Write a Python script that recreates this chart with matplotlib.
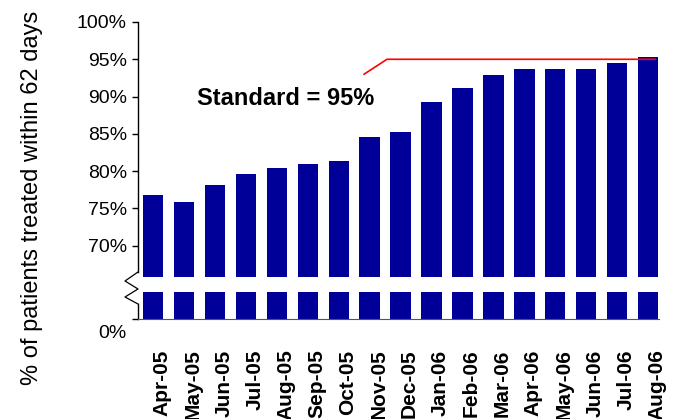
import matplotlib
matplotlib.use("Agg")
import matplotlib.pyplot as plt
from matplotlib.lines import Line2D
from matplotlib.transforms import ScaledTranslation

plt.rcParams["font.family"] = ["Liberation Sans", "DejaVu Sans"]

months = ["Apr-05", "May-05", "Jun-05", "Jul-05", "Aug-05", "Sep-05", "Oct-05",
          "Nov-05", "Dec-05", "Jan-06", "Feb-06", "Mar-06", "Apr-06", "May-06",
          "Jun-06", "Jul-06", "Aug-06"]
pct_within_62 = [76.8, 75.8, 78.2, 79.6, 80.4, 81.0, 81.4, 84.6, 85.3, 89.3,
                 91.2, 92.9, 93.7, 93.7, 93.7, 94.5, 95.3]
standard = 95
upper_ticks = [70, 75, 80, 85, 90, 95, 100]

BAR = "#000099"
W, H = 674, 419


def fx(px):
    return px / W


def fy(py):
    return 1 - py / H


fig = plt.figure(figsize=(W / 100, H / 100), dpi=100)
fig.patch.set_facecolor("white")

left, right = fx(138), fx(659)
ax_top = fig.add_axes([left, fy(277), right - left, fy(22) - fy(277)])
ax_bot = fig.add_axes([left, fy(319), right - left, fy(292) - fy(319)])

x = list(range(len(months)))
for ax in (ax_top, ax_bot):
    ax.bar(x, pct_within_62, width=0.656, color=BAR, zorder=2)
    ax.set_xlim(-0.485, 16.35)
    for s in ("top", "right"):
        ax.spines[s].set_visible(False)
    ax.spines["left"].set_linewidth(1.0)
    ax.tick_params(axis="y", direction="out", length=4, width=1.0,
                   labelsize=14, pad=4)

# upper part: 70%..100% with the bars continuing down to the break
ax_top.set_ylim(65.8, 100)
ax_top.spines["bottom"].set_visible(False)
ax_top.spines["left"].set_bounds(66.5, 100)
ax_top.set_yticks(upper_ticks)
ax_top.set_yticklabels([f"{t}%" for t in upper_ticks])
ax_top.set_xticks([])

# standard line with its leader
ax_top.plot([6.82, 7.56, 16.22], [93.0, standard, standard], color="red",
            lw=1.2, zorder=3, clip_on=False)
ax_top.text(1.42, 89.7, f"Standard = {standard}%", fontsize=17,
            fontweight="bold", ha="left", va="center")

# lower stub: 0% baseline
ax_bot.set_ylim(0, 10)
ax_bot.spines["left"].set_bounds(0, 5.6)
ax_bot.spines["bottom"].set_color("#555555")
ax_bot.set_yticks([0])
ax_bot.set_yticklabels(["0%"])
for lab in ax_bot.get_yticklabels():
    lab.set_transform(lab.get_transform() + ScaledTranslation(0, -12 / 100, fig.dpi_scale_trans))
ax_bot.set_xticks(x)
ax_bot.set_xticklabels(months, rotation=90, fontsize=15, fontweight="bold",
                       va="top", ha="center")
ax_bot.tick_params(axis="x", length=0, pad=22)
for lab in ax_bot.get_xticklabels():
    lab.set_transform(lab.get_transform() + ScaledTranslation(9 / 100, 0, fig.dpi_scale_trans))

# zigzag break mark on the value axis
zx = [138, 125, 138, 125, 138]
zy = [272, 281, 289, 297, 304]
fig.add_artist(Line2D([fx(v) for v in zx], [fy(v) for v in zy],
                      transform=fig.transFigure, color="black", lw=0.9))

fig.text(fx(32), fy(198), "% of patients treated within 62 days", rotation=90,
         ha="center", va="center", fontsize=17)

fig.savefig("out.png", dpi=100, facecolor="white")
